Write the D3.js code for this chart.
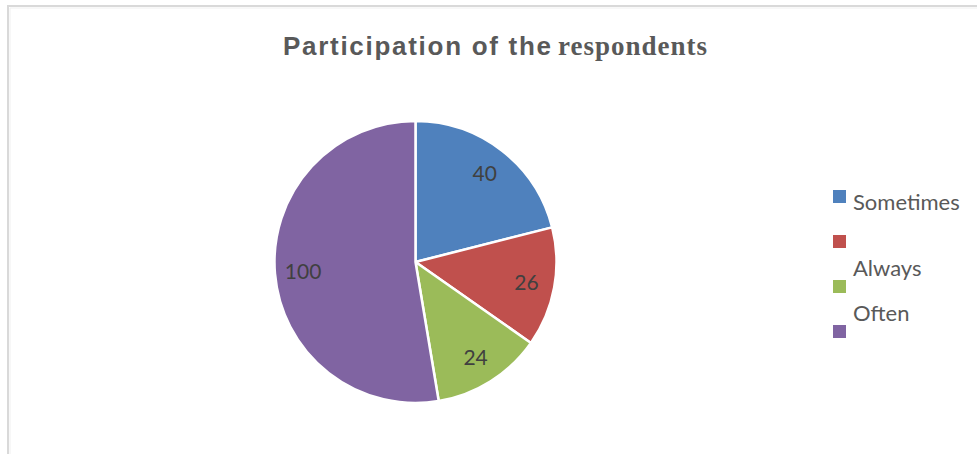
<!DOCTYPE html>
<html>
<head>
<meta charset="utf-8">
<script src="https://cdn.jsdelivr.net/npm/d3@7"></script>
<style>
  html, body { margin: 0; padding: 0; background: #ffffff; }
  svg { display: block; }
</style>
</head>
<body>
<svg id="chart" width="977" height="454"></svg>
<script>
// Survey responses: how often respondents participate
const categories = ["Sometimes", "", "Always", "Often"];
const values = [40, 26, 24, 100];
const colors = ["#4F81BD", "#C0504D", "#9BBB59", "#8064A2"];
const titleParts = ["Participation of the", "respondents"];

const width = 977, height = 454;
const svg = d3.select("#chart");

// chart-area frame (open to the right and bottom)
svg.append("path")
  .attr("d", `M8,${height} L8,6 L${width},6`)
  .attr("fill", "none")
  .attr("stroke", "#d9d9d9")
  .attr("stroke-width", 2);
svg.append("path")
  .attr("d", `M10,${height} L10,8 L${width},8`)
  .attr("fill", "none")
  .attr("stroke", "#f0f0f0")
  .attr("stroke-width", 1);

// title: sans-serif lead-in followed by a serif word
const titleY = 55;
svg.append("text")
  .attr("x", 283)
  .attr("y", titleY)
  .attr("fill", "#595959")
  .attr("font-weight", "bold")
  .attr("font-family", "'Liberation Sans', Arial, sans-serif")
  .attr("font-size", 26)
  .attr("textLength", 268)
  .attr("lengthAdjust", "spacing")
  .text(titleParts[0]);
svg.append("text")
  .attr("x", 558)
  .attr("y", titleY)
  .attr("fill", "#595959")
  .attr("font-weight", "bold")
  .attr("font-family", "'Liberation Serif', 'Times New Roman', serif")
  .attr("font-size", 27)
  .attr("textLength", 149)
  .attr("lengthAdjust", "spacing")
  .text(titleParts[1]);

// pie
const cx = 415.5, cy = 262, r = 141;
const pie = d3.pie().sort(null).value(d => d)(values);
const arc = d3.arc().innerRadius(0).outerRadius(r);
const labelArc = d3.arc().innerRadius(r * 0.8).outerRadius(r * 0.8);

const g = svg.append("g").attr("transform", `translate(${cx},${cy})`);
g.selectAll("path.slice")
  .data(pie)
  .join("path")
  .attr("class", "slice")
  .attr("d", arc)
  .attr("fill", (d, i) => colors[i])
  .attr("stroke", "#ffffff")
  .attr("stroke-width", 2.5)
  .attr("stroke-linejoin", "round");

g.selectAll("text.value")
  .data(pie)
  .join("text")
  .attr("class", "value")
  .attr("transform", d => `translate(${labelArc.centroid(d)})`)
  .attr("text-anchor", "middle")
  .attr("dy", "0.36em")
  .attr("font-family", "Lato, 'Liberation Sans', sans-serif")
  .attr("font-size", 21)
  .attr("fill", "#404040")
  .text(d => d.data);

// legend
const legendX = 833, legendY = 190, rowGap = 45, box = 13;
const legend = svg.append("g");
const rows = legend.selectAll("g")
  .data(categories)
  .join("g")
  .attr("transform", (d, i) => `translate(${legendX},${legendY + i * rowGap})`);
rows.append("rect")
  .attr("width", box)
  .attr("height", box)
  .attr("fill", (d, i) => colors[i]);
// first entry sits beside its swatch; the later ones ride above theirs
rows.append("text")
  .attr("x", 20)
  .attr("y", (d, i) => i === 0 ? 20 : -4)
  .attr("font-family", "Lato, 'Liberation Sans', sans-serif")
  .attr("font-size", 22)
  .attr("fill", "#595959")
  .text(d => d);
</script>
</body>
</html>
